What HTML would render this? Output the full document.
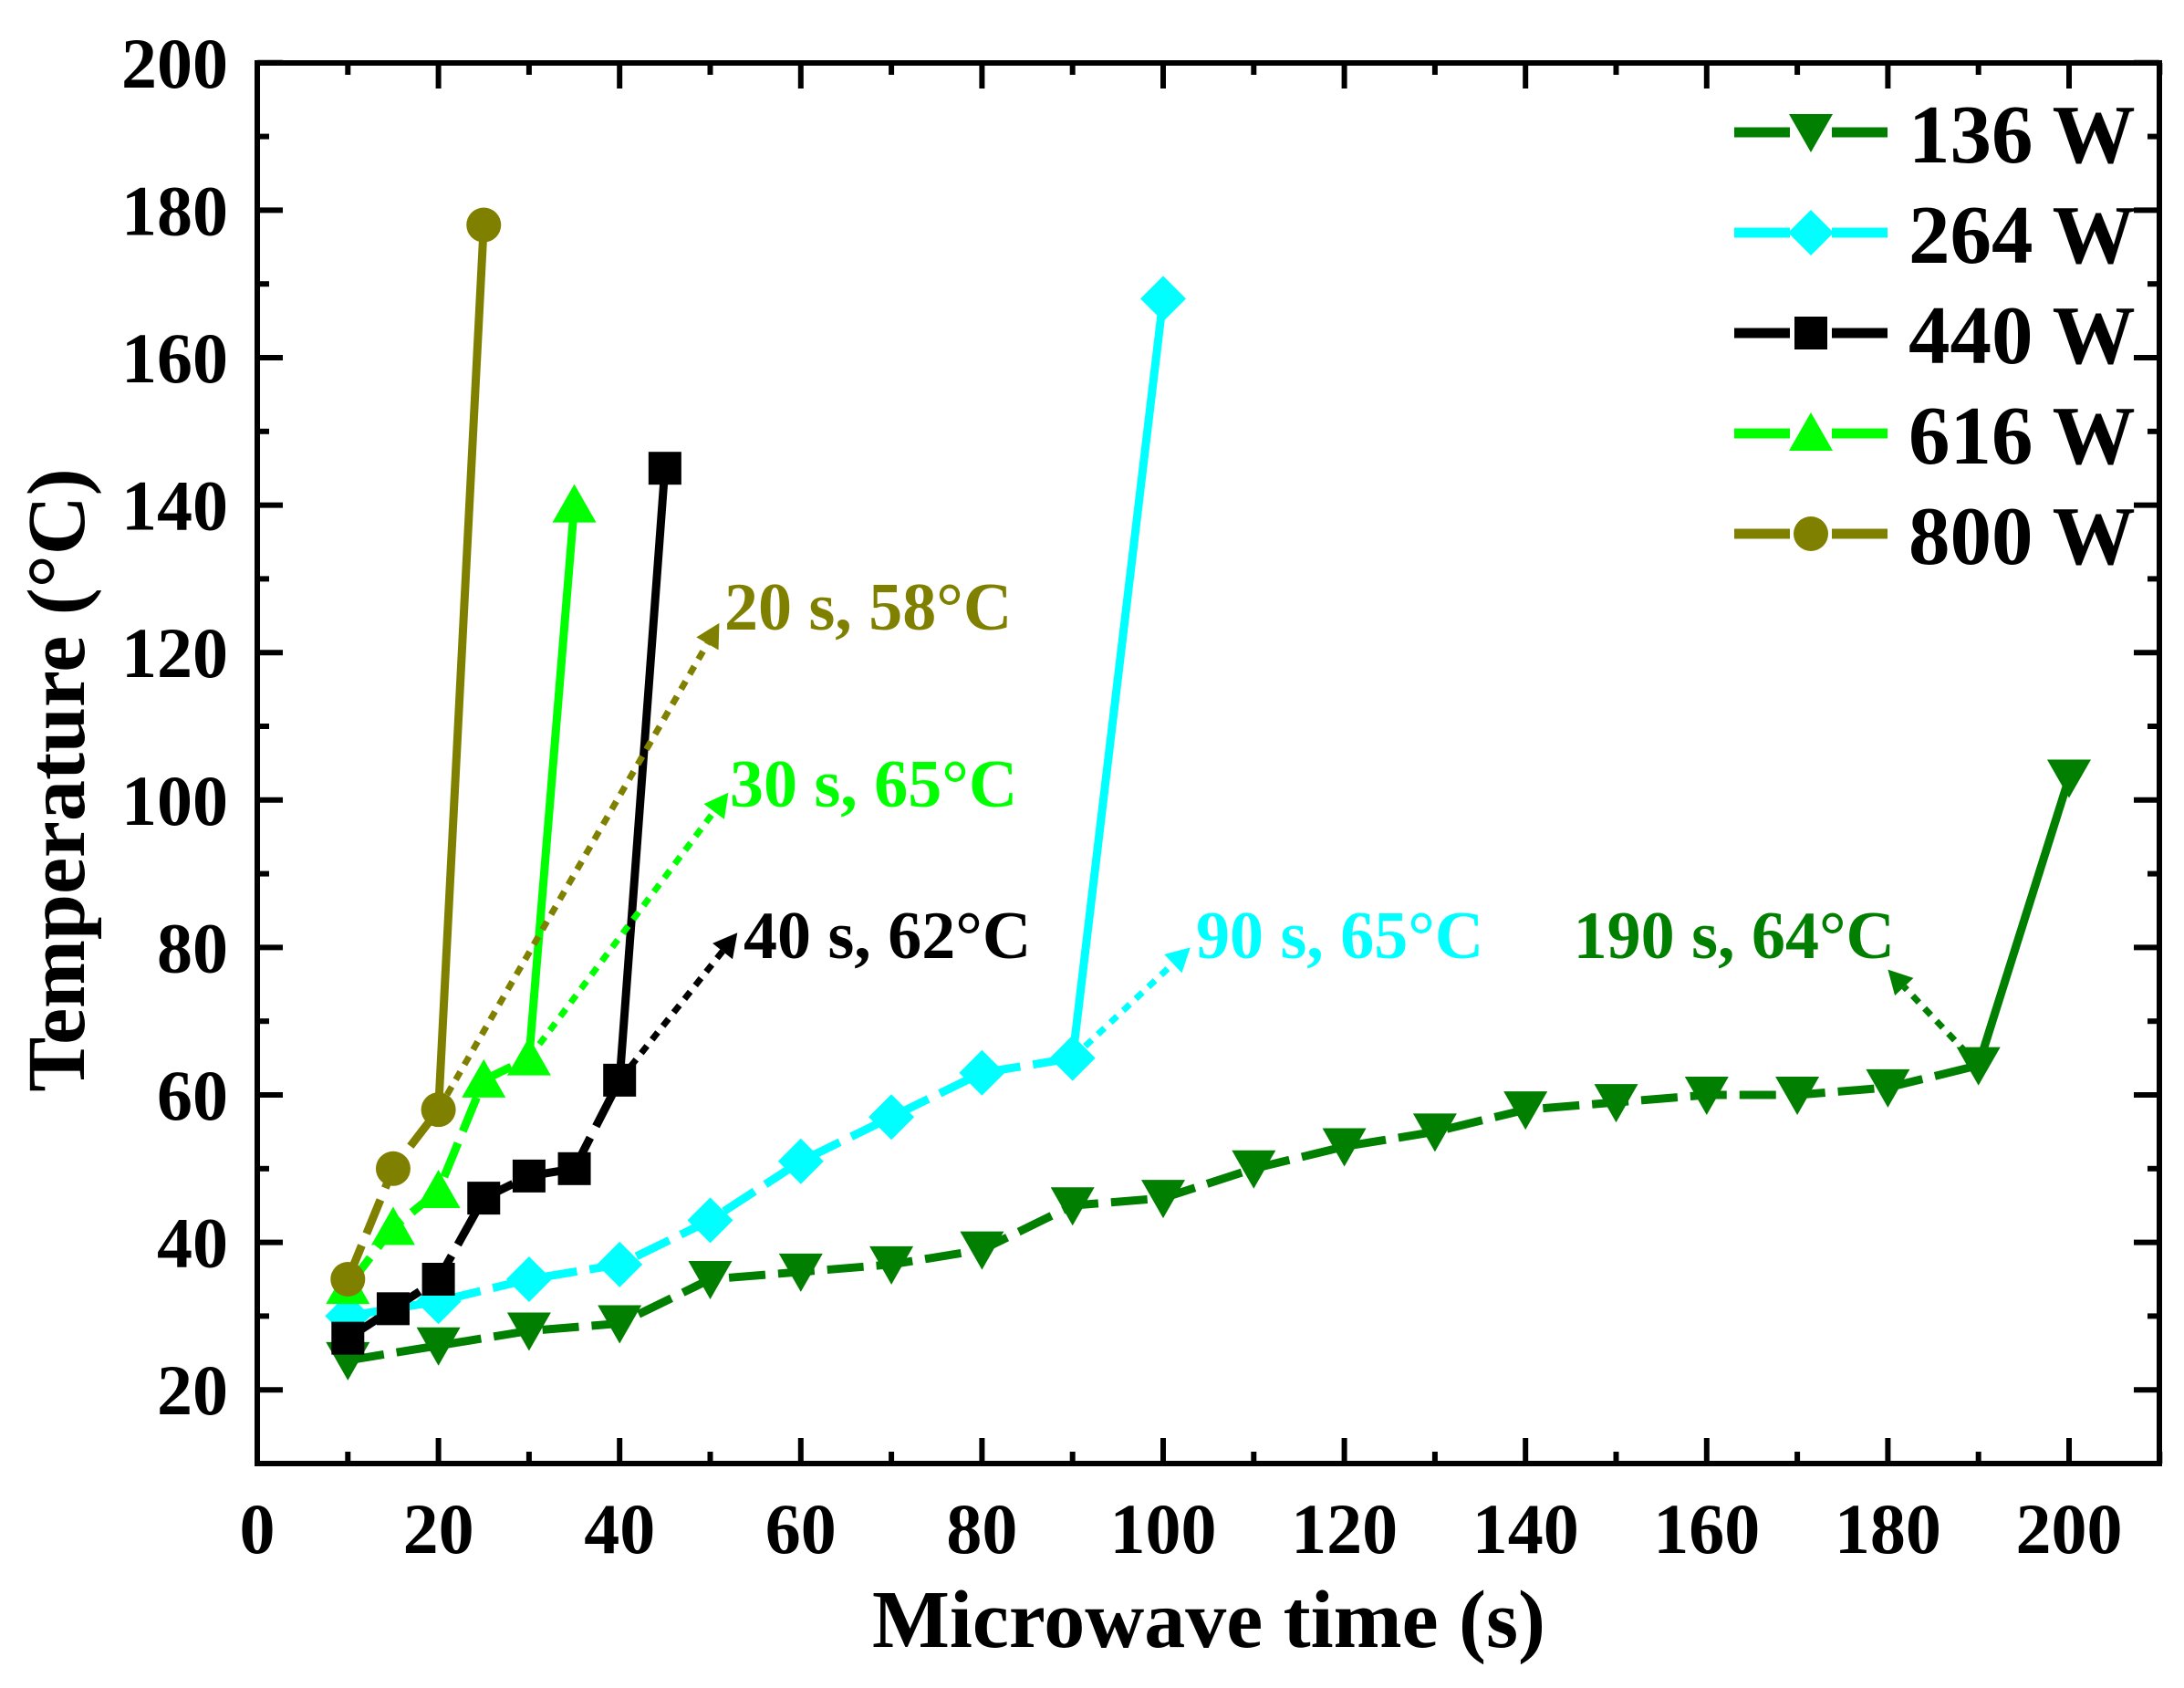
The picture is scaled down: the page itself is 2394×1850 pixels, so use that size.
<!DOCTYPE html>
<html><head><meta charset="utf-8"><style>html,body{margin:0;padding:0;background:#fff}svg{display:block}text{font-family:"Liberation Serif",serif;font-weight:bold}</style></head>
<body>
<svg id="s" width="2394" height="1850" viewBox="0 0 2394 1850" xmlns="http://www.w3.org/2000/svg"></svg>
<script>
const s=document.getElementById('s');
const X=t=>282+9.93*t, Y=v=>1604-8.08*(v-10);
let h='';
h+=`<rect x="282" y="69" width="2085" height="1535" fill="none" stroke="#000" stroke-width="6"/>`;
for(let t=0;t<=210;t+=10){const x=X(t);const L=(t%20==0)?28:13;h+=`<line x1="${x}" y1="1604" x2="${x}" y2="${1604-L}" stroke="#000" stroke-width="6"/>`;h+=`<line x1="${x}" y1="69" x2="${x}" y2="${69+L}" stroke="#000" stroke-width="6"/>`;
 if(t%20==0&&t<=200)h+=`<text x="${x}" y="1702" font-size="78" text-anchor="middle">${t}</text>`;}
for(let v=10;v<=200;v+=10){const y=Y(v);const L=(v%20==0)?28:13;h+=`<line x1="282" y1="${y}" x2="${282+L}" y2="${y}" stroke="#000" stroke-width="6"/>`;h+=`<line x1="2367" y1="${y}" x2="${2367-L}" y2="${y}" stroke="#000" stroke-width="6"/>`;
 if(v%20==0)h+=`<text x="250" y="${y+27}" font-size="78" text-anchor="end">${v}</text>`;}
h+=`<text x="1325" y="1805" font-size="90" text-anchor="middle">Microwave time (s)</text>`;
h+=`<text transform="translate(92,855) rotate(-90)" font-size="90" text-anchor="middle">Temperature (°C)</text>`;
function mk(type,x,y,c){
 if(type=='tri')return `<polygon points="${x-24},${y-20} ${x+24},${y-20} ${x},${y+22}" fill="${c}"/>`;
 if(type=='utri')return `<polygon points="${x-24},${y+19} ${x+24},${y+19} ${x},${y-23}" fill="${c}"/>`;
 if(type=='dia')return `<polygon points="${x},${y-25} ${x+25},${y} ${x},${y+25} ${x-25},${y}" fill="${c}"/>`;
 if(type=='sq')return `<rect x="${x-18}" y="${y-18}" width="36" height="36" fill="${c}"/>`;
 return `<circle cx="${x}" cy="${y}" r="19" fill="${c}"/>`;
}
const series=[
 ['#007f00','tri',[[10,24],[20,26],[30,28],[40,29],[50,35],[60,36],[70,37],[80,39],[90,45],[100,46],[110,50],[120,53],[130,55],[140,58],[150,59],[160,60],[170,60],[180,61],[190,64],[200,103]]],
 ['#00ffff','dia',[[10,30],[20,32],[30,35],[40,37],[50,43],[60,51],[70,57],[80,63],[90,65],[100,168]]],
 ['#000000','sq',[[10,27],[15,31],[20,35],[25,46],[30,49],[35,50],[40,62],[45,145]]],
 ['#00ff00','utri',[[10,34],[15,42],[20,47],[25,62],[30,65],[35,140]]],
 ['#808000','cir',[[10,35],[15,50],[20,58],[25,178]]]
];
for(const [c,m,d] of series){
 const p=d.map(([t,v])=>X(t)+','+Y(v));
 h+=`<polyline points="${p.slice(0,-1).join(' ')}" fill="none" stroke="${c}" stroke-width="9" stroke-dasharray="40,14"/>`;
 h+=`<line x1="${X(d[d.length-2][0])}" y1="${Y(d[d.length-2][1])}" x2="${X(d[d.length-1][0])}" y2="${Y(d[d.length-1][1])}" stroke="${c}" stroke-width="9"/>`;
}
for(const [c,m,d] of series)for(const [t,v] of d)h+=mk(m,X(t),Y(v),c);
function arrow(x1,y1,x2,y2,c){const a=Math.atan2(y2-y1,x2-x1);const L=26,W=14;
 const bx=x2-L*Math.cos(a),by=y2-L*Math.sin(a);
 return `<line x1="${x1}" y1="${y1}" x2="${bx}" y2="${by}" stroke="${c}" stroke-width="7" stroke-dasharray="10,9"/><polygon points="${x2},${y2} ${bx+W*Math.sin(a)},${by-W*Math.cos(a)} ${bx-W*Math.sin(a)},${by+W*Math.cos(a)}" fill="${c}"/>`;}
h+=arrow(X(20),Y(58),X(51),Y(124),'#808000');
h+=`<text x="794" y="690" font-size="74" fill="#808000">20 s, 58°C</text>`;
h+=arrow(X(30),Y(65),X(52),Y(101),'#00ff00');
h+=`<text x="800" y="884" font-size="74" fill="#00ff00">30 s, 65°C</text>`;
h+=arrow(X(40),Y(62),X(53),Y(82),'#000000');
h+=`<text x="815" y="1050" font-size="74" fill="#000">40 s, 62°C</text>`;
h+=arrow(X(90),Y(65),X(103),Y(80),'#00ffff');
h+=`<text x="1311" y="1050" font-size="74" fill="#00ffff">90 s, 65°C</text>`;
h+=arrow(X(190),Y(64),X(180),Y(77),'#007f00');
h+=`<text x="2077" y="1050" font-size="74" fill="#007f00" text-anchor="end">190 s, 64°C</text>`;
const lg=[['#007f00','tri','136 W'],['#00ffff','dia','264 W'],['#000000','sq','440 W'],['#00ff00','utri','616 W'],['#808000','cir','800 W']];
lg.forEach(([c,m,t],i)=>{const y=145+i*110;
 h+=`<line x1="1901" y1="${y}" x2="2069" y2="${y}" stroke="${c}" stroke-width="11"/>`;
 h+=`<rect x="1962" y="${y-30}" width="46" height="60" fill="#fff"/>`;
 h+=mk(m,1985,y,c);
 h+=`<text x="2092" y="${y+33}" font-size="91">${t}</text>`;});
s.innerHTML=h;
</script>
</body></html>
